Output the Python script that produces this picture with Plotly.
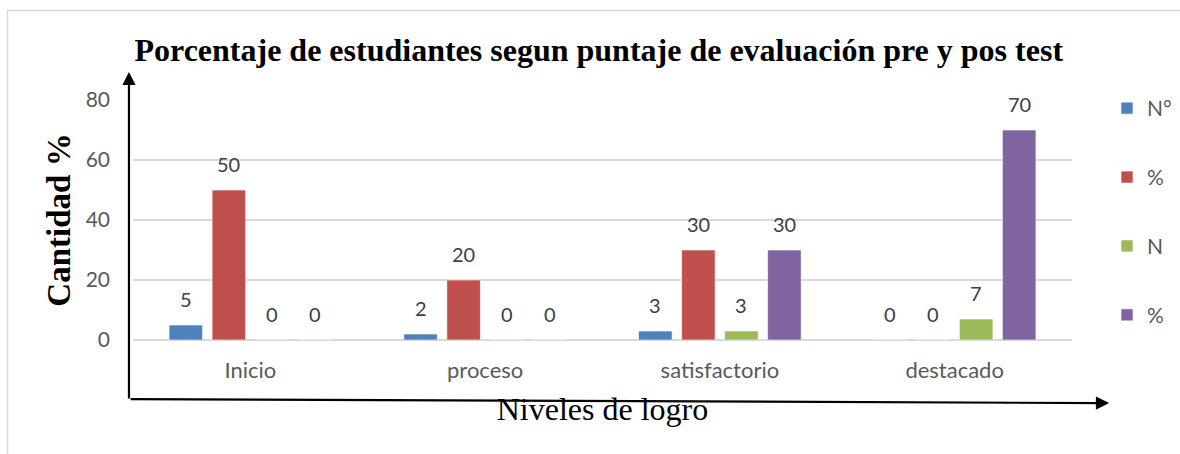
import plotly.graph_objects as go

categories = ["Inicio", "proceso", "satisfactorio", "destacado"]
series_names = ["N°", "%", "N", "%"]
serie_n_pre = [5, 2, 3, 0]
serie_pct_pre = [50, 20, 30, 0]
serie_n_post = [0, 0, 3, 7]
serie_pct_post = [0, 0, 30, 70]
y_ticks = [0, 20, 40, 60, 80]

series_values = [serie_n_pre, serie_pct_pre, serie_n_post, serie_pct_post]
colors = ["#4f81bd", "#c0504d", "#9bbb59", "#8064a2"]

BARGAP = 0.267
BARGROUPGAP = 0.22
LABEL_FONT = "Lato, Open Sans, sans-serif"
SERIF = "Liberation Serif, Times New Roman, serif"

fig = go.Figure()
for j, (name, vals, col) in enumerate(zip(series_names, series_values, colors)):
    fig.add_trace(go.Bar(
        x=categories, y=vals, name=name,
        marker=dict(color=col, line=dict(color="rgba(255,255,255,0.6)", width=1)),
        legendgroup=f"g{j}",
    ))

# data labels, positioned over each bar slot
n = len(series_values)
slot = (1 - BARGAP) / n
annotations = []
for j, vals in enumerate(series_values):
    for i, v in enumerate(vals):
        annotations.append(dict(
            x=i + (j - (n - 1) / 2) * slot, y=v, xref="x", yref="y",
            text=str(v), showarrow=False, yanchor="middle", yshift=26,
            font=dict(family=LABEL_FONT, size=20, color="#404040"),
        ))

# axis arrows
annotations.append(dict(
    x=-0.0043, y=1.117, xref="paper", yref="paper",
    ax=0, ay=328, axref="pixel", ayref="pixel",
    showarrow=True, arrowhead=2, arrowsize=1.2, arrowwidth=2.2, arrowcolor="black", text="",
))
annotations.append(dict(
    x=1.0395, y=-0.263, xref="paper", yref="paper",
    ax=-980, ay=-4, axref="pixel", ayref="pixel",
    showarrow=True, arrowhead=2, arrowsize=1.2, arrowwidth=2.2, arrowcolor="black", text="",
))

fig.update_layout(
    width=1180, height=454,
    paper_bgcolor="white", plot_bgcolor="white",
    margin=dict(l=133, r=108, t=100, b=114, autoexpand=False),
    barmode="group", bargap=BARGAP, bargroupgap=BARGROUPGAP,
    title=dict(
        text="<b>Porcentaje de estudiantes segun puntaje de evaluación pre y pos test</b>",
        font=dict(family=SERIF, size=32, color="black"),
        x=0.496, xref="paper", xanchor="center", y=0.89, yref="container", yanchor="middle",
    ),
    xaxis=dict(
        showgrid=False, showline=False, ticks="",
        tickfont=dict(family=LABEL_FONT, size=22, color="#595959"),
        ticklabelstandoff=15,
        title=dict(text="Niveles de logro", font=dict(family=SERIF, size=32, color="black"), standoff=15),
    ),
    yaxis=dict(
        range=[0, 80], tickvals=y_ticks, showgrid=True, gridcolor="#d9d9d9", gridwidth=2,
        zeroline=True, zerolinecolor="#d9d9d9", zerolinewidth=2, showline=False, ticks="",
        tickfont=dict(family=LABEL_FONT, size=21, color="#595959"),
        ticklabelstandoff=22,
        title=dict(text="<b>Cantidad %</b>", font=dict(family=SERIF, size=33, color="black"), standoff=5),
    ),
    legend=dict(
        x=1.0373, y=1.05, xanchor="left", yanchor="top", xref="paper", yref="paper",
        font=dict(family=LABEL_FONT, size=21, color="#595959"),
        tracegroupgap=38.6, bgcolor="rgba(0,0,0,0)", itemwidth=30, maxheight=454,
    ),
    annotations=annotations,
    shapes=[dict(
        type="rect", xref="paper", yref="paper",
        x0=-(133 - 7.5) / 939, x1=1.3, y0=-0.6, y1=(340 - 10.5) / 240,
        line=dict(color="#d9d9d9", width=1.5), fillcolor="rgba(0,0,0,0)", layer="below",
    )],
    showlegend=True,
)

fig.write_html(
    "out.html",
    config={"displayModeBar": False},
    post_script="document.body.style.margin='0';document.body.style.overflow='hidden';",
)
